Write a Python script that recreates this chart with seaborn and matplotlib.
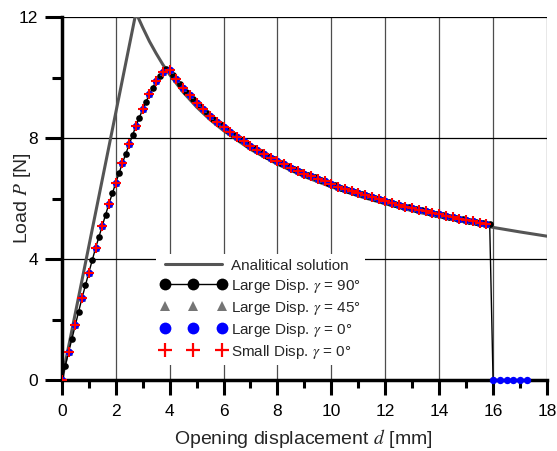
# Load vs opening displacement: analytical solution vs numerical runs
import numpy as np
import pandas as pd
import seaborn as sns
import matplotlib.pyplot as plt
from matplotlib.lines import Line2D

# Analytical solution
disp_ana = [0.0, 2.75, 3.0, 3.25, 3.5, 3.75, 4.0, 4.5, 5.0, 5.5, 6.0, 7.0, 8.0,
            9.0, 10.0, 11.0, 12.0, 13.0, 14.0, 15.0, 16.0, 17.0, 18.0]
load_ana = [0.0, 12.15, 11.66, 11.2, 10.8, 10.43, 10.1, 9.52, 9.03, 8.61, 8.25, 7.63, 7.14,
            6.73, 6.39, 6.09, 5.83, 5.6, 5.4, 5.22, 5.05, 4.9, 4.76]

# Numerical results, loading branch
disp_rise = [0.0, 0.125, 0.25, 0.375, 0.5, 0.625, 0.75, 0.875, 1.0, 1.125, 1.25, 1.375,
             1.5, 1.625, 1.75, 1.875, 2.0, 2.125, 2.25, 2.375, 2.5, 2.625, 2.75, 2.875,
             3.0, 3.125, 3.25, 3.375, 3.5, 3.625, 3.75, 3.875]
load_rise = [0.0, 0.47, 0.92, 1.37, 1.82, 2.27, 2.72, 3.14, 3.55, 3.96, 4.36, 4.73,
             5.1, 5.47, 5.84, 6.18, 6.52, 6.85, 7.18, 7.49, 7.8, 8.1, 8.4, 8.68,
             8.95, 9.2, 9.45, 9.67, 9.88, 10.06, 10.2, 10.27]

# Numerical results, softening branch
disp_soft = [4.0, 4.125, 4.25, 4.375, 4.5, 4.625, 4.75, 4.875, 5.0, 5.125, 5.25, 5.375,
             5.5, 5.625, 5.75, 5.875, 6.0, 6.125, 6.25, 6.375, 6.5, 6.625, 6.75, 6.875,
             7.0, 7.125, 7.25, 7.375, 7.5, 7.625, 7.75, 7.875, 8.0, 8.125, 8.25, 8.375,
             8.5, 8.625, 8.75, 8.875, 9.0, 9.125, 9.25, 9.375, 9.5, 9.625, 9.75, 9.875,
             10.0, 10.125, 10.25, 10.375, 10.5, 10.625, 10.75, 10.875, 11.0, 11.125, 11.25, 11.375,
             11.5, 11.625, 11.75, 11.875, 12.0, 12.125, 12.25, 12.375, 12.5, 12.625, 12.75, 12.875,
             13.0, 13.125, 13.25, 13.375, 13.5, 13.625, 13.75, 13.875, 14.0, 14.125, 14.25, 14.375,
             14.5, 14.625, 14.75, 14.875, 15.0, 15.125, 15.25, 15.375, 15.5, 15.625, 15.75, 15.875]
load_soft = [10.25, 10.09, 9.94, 9.8, 9.66, 9.53, 9.41, 9.28, 9.17, 9.06, 8.95, 8.84,
             8.74, 8.64, 8.55, 8.46, 8.37, 8.28, 8.2, 8.12, 8.04, 7.96, 7.89, 7.82,
             7.75, 7.68, 7.61, 7.55, 7.49, 7.42, 7.36, 7.31, 7.25, 7.19, 7.14, 7.08,
             7.03, 6.98, 6.93, 6.88, 6.83, 6.79, 6.74, 6.7, 6.65, 6.61, 6.57, 6.52,
             6.48, 6.44, 6.4, 6.36, 6.33, 6.29, 6.25, 6.22, 6.18, 6.15, 6.11, 6.08,
             6.05, 6.01, 5.98, 5.95, 5.92, 5.89, 5.86, 5.83, 5.8, 5.77, 5.74, 5.71,
             5.69, 5.66, 5.63, 5.61, 5.58, 5.55, 5.53, 5.5, 5.48, 5.45, 5.43, 5.41,
             5.38, 5.36, 5.34, 5.32, 5.29, 5.27, 5.25, 5.23, 5.21, 5.19, 5.17, 5.15]

# Failure: load drops to zero, large disp. gamma=0 continues on zero
disp_drop = [16.0]
load_drop = [0.0]
disp_zero = [16.0, 16.25, 16.5, 16.75, 17.0, 17.25]
load_zero = [0.0, 0.0, 0.0, 0.0, 0.0, 0.0]

labels = ["Analitical solution",
          r"Large Disp. $\gamma$ = 90°",
          r"Large Disp. $\gamma$ = 45°",
          r"Large Disp. $\gamma$ = 0°",
          r"Small Disp. $\gamma$ = 0°"]

# Build dataframes
ana_df = pd.DataFrame({"d": disp_ana, "P": load_ana})
g90_df = pd.DataFrame({"d": disp_rise + disp_soft + disp_drop,
                       "P": load_rise + load_soft + load_drop})
coarse_d = (disp_rise + disp_soft)[::2]
coarse_P = (load_rise + load_soft)[::2]
coarse_df = pd.DataFrame({"d": coarse_d, "P": coarse_P})
zero_df = pd.DataFrame({"d": disp_zero, "P": load_zero})

# Style
sns.set_style("white")
plt.rcParams["font.family"] = ["Liberation Sans", "DejaVu Sans"]
plt.rcParams["mathtext.fontset"] = "stix"

fig = plt.figure(figsize=(5.57, 4.51), dpi=100)
ax = fig.add_axes([0.111, 0.157, 0.871, 0.805])

ana_color = "#555555"
tri_color = "#757575"

sns.lineplot(data=ana_df, x="d", y="P", ax=ax, color=ana_color, linewidth=2.2,
             estimator=None, sort=False, zorder=2)
sns.lineplot(data=g90_df, x="d", y="P", ax=ax, color="black", linewidth=1.0,
             marker="o", markersize=4.8, markeredgewidth=0, estimator=None, sort=False, zorder=3)
sns.scatterplot(data=coarse_df, x="d", y="P", ax=ax, color=tri_color, marker="^",
                s=24, linewidth=0, zorder=4)
sns.scatterplot(data=coarse_df, x="d", y="P", ax=ax, color="#0000ff", marker="o",
                s=28, linewidth=0, zorder=5)
sns.scatterplot(data=zero_df, x="d", y="P", ax=ax, color="#0000ff", marker="o",
                s=28, linewidth=0, zorder=5, clip_on=False)
sns.scatterplot(data=coarse_df, x="d", y="P", ax=ax, color="red", marker="+",
                s=50, linewidth=1.5, zorder=6)

# Axes, ticks and grid
ax.set_xlim(0, 18)
ax.set_ylim(0, 12)
ax.set_xticks(range(0, 19, 2))
ax.set_xticks(range(1, 18, 2), minor=True)
ax.set_yticks([0, 4, 8, 12])
ax.set_yticks([2, 6, 10], minor=True)
ax.tick_params(axis="both", which="both", bottom=True, left=True, direction="out",
               width=2.2, colors="black")
ax.tick_params(axis="x", which="major", length=11, pad=6, labelsize=12.5)
ax.tick_params(axis="y", which="major", length=12, pad=5, labelsize=12.5)
ax.tick_params(axis="x", which="minor", length=6)
ax.tick_params(axis="y", which="minor", length=7)
ax.xaxis.grid(True, which="major", color="0.3", linewidth=0.9)
ax.yaxis.grid(True, which="major", color="black", linewidth=0.9)
ax.set_axisbelow(True)
for side in ["top", "right"]:
    ax.spines[side].set_visible(False)
for side in ["left", "bottom"]:
    ax.spines[side].set_linewidth(2.5)
    ax.spines[side].set_color("black")

ax.set_xlabel(r"Opening displacement $\mathit{d}$ [mm]", fontsize=14)
ax.set_ylabel(r"Load $\mathit{P}$ [N]", fontsize=14)
ax.xaxis.set_label_coords(0.497, -0.128)
ax.yaxis.set_label_coords(-0.082, 0.5)
ax.yaxis.label.set_va("center")

# Legend with three markers per entry
handles = [
    Line2D([], [], color=ana_color, linewidth=2.2),
    Line2D([], [], color="black", linewidth=1.0, marker="o", markersize=8.5, markeredgewidth=0),
    Line2D([], [], color=tri_color, linestyle="", marker="^", markersize=7, markeredgewidth=0),
    Line2D([], [], color="#0000ff", linestyle="", marker="o", markersize=8.5, markeredgewidth=0),
    Line2D([], [], color="red", linestyle="", marker="+", markersize=9.5, markeredgewidth=1.6),
]
leg = ax.legend(handles, labels, loc="upper left", bbox_to_anchor=(0.194, 0.347),
                numpoints=3, handlelength=4.3, handletextpad=0.3, labelspacing=0.26,
                fontsize=11, frameon=True, fancybox=False, borderpad=0.3,
                borderaxespad=0)
leg.get_frame().set_facecolor("white")
leg.get_frame().set_edgecolor("none")
leg.get_frame().set_alpha(1)
leg.set_zorder(10)

plt.savefig("out.png", dpi=100)
